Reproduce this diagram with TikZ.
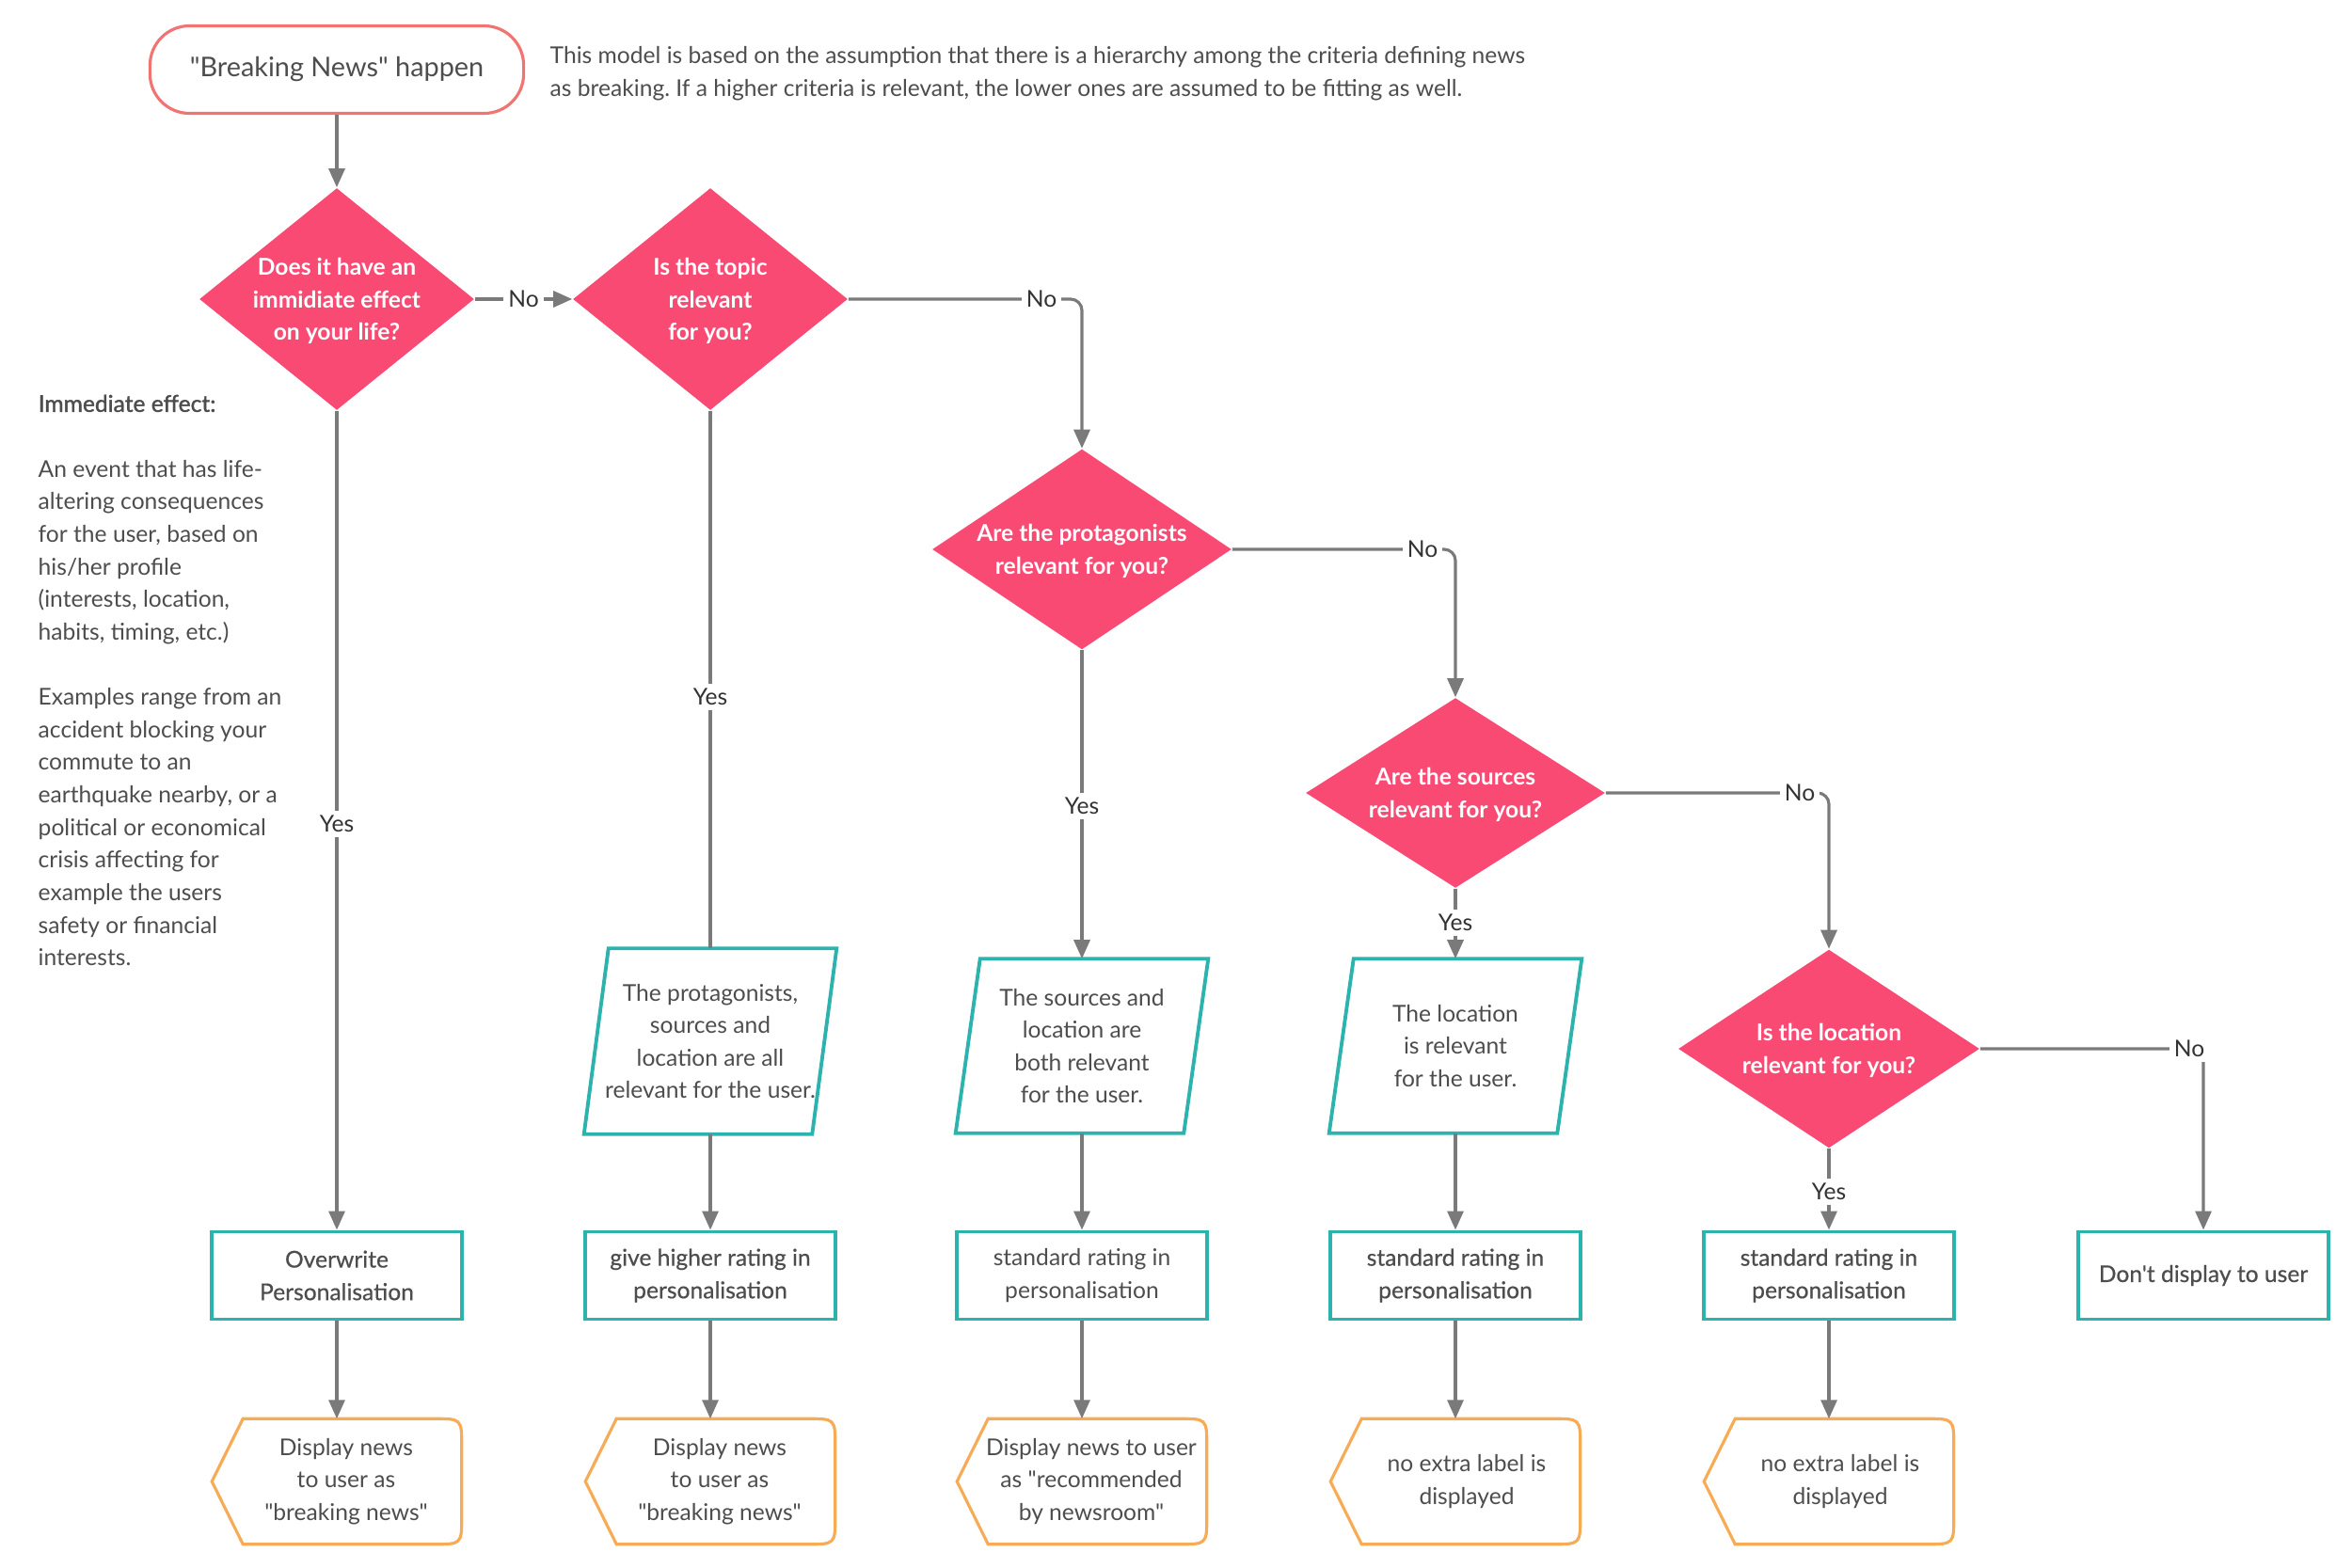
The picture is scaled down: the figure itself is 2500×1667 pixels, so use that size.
\documentclass[tikz,border=0pt]{standalone}
\usepackage{fontspec}
\newfontfamily\lato{Lato}
\newfontfamily\latomed{Lato}[FakeBold=0.5]
\newfontfamily\latosemi{Lato}[FakeBold=1.4]
\usetikzlibrary{arrows.meta,shapes.geometric}
\definecolor{pinkd}{HTML}{F84A73}
\definecolor{tealc}{HTML}{2CB3AE}
\definecolor{orangec}{HTML}{F7AB55}
\definecolor{salmon}{HTML}{F07472}
\definecolor{linec}{HTML}{7A7A7A}
\definecolor{txt}{HTML}{4D4D4D}
\definecolor{lblc}{HTML}{333333}
\newcommand\bodyfont{\lato\frenchspacing\fontsize{7.0}{9.85}\selectfont}
\newcommand\medfont{\latomed\frenchspacing\fontsize{7.0}{9.85}\selectfont}
\newcommand\bigfont{\lato\fontsize{8.2}{10}\selectfont}
\begin{document}
\begin{tikzpicture}[x=0.01cm,y=-0.01cm,
  startbox/.style={draw=salmon, line width=0.9pt, rounded corners=0.42cm, minimum width=3.97cm, minimum height=0.93cm, font=\bigfont, text=txt, inner sep=0pt},
  dia/.style={diamond, fill=pinkd, draw=none, inner sep=0pt},
  diatext/.style={font=\bodyfont\bfseries, text=white, align=center, inner sep=0pt},
  proc/.style={draw=tealc, line width=1.1pt, minimum width=2.66cm, minimum height=0.93cm, align=center, font=\medfont, text=txt, inner sep=0pt},
  para/.style={minimum width=2.67cm, minimum height=1.96cm, align=center, font=\bodyfont, text=txt, inner sep=0pt},
  paraline/.style={draw=tealc, line width=1.1pt, line join=miter},
  disp/.style={minimum width=2.64cm, minimum height=1.32cm, inner sep=0pt},
  displine/.style={draw=orangec, line width=0.9pt},
  disptext/.style={align=center, font=\bodyfont, text=txt, inner sep=0pt},
  lbl/.style={fill=white, inner sep=1.5pt, font=\bodyfont, text=lblc},
  arr/.style={draw=linec, line width=0.9pt, -{Triangle[length=0.2cm,width=0.17cm]}},
  plainline/.style={draw=linec, line width=0.9pt},
  note/.style={font=\bodyfont, text=txt, align=left, inner sep=0pt, anchor=north west}
]
\useasboundingbox (0,0) rectangle (2500,1667);

% start
\node[startbox] (start) at (358,74) {"Breaking News" happen};
\node[note] (topnote) at (584,49) {This model is based on the assumption that there is a hierarchy among the criteria defining news\\as breaking. If a higher criteria is relevant, the lower ones are assumed to be fitting as well.};

% left note
\node[note] (leftnote) at (40,419) {{\latosemi Immediate effect:}\\[9.85pt]An event that has life-\\altering consequences\\for the user, based on\\his/her profile\\(interests, location,\\habits, timing, etc.)\\[9.85pt]Examples range from an\\accident blocking your\\commute to an\\earthquake nearby, or a\\political or economical\\crisis affecting for\\example the users\\safety or financial\\interests.};

% diamonds
\node[dia, minimum width=2.92cm, minimum height=2.36cm] (d1) at (358,318) {};
\node[diatext] (d1t) at ([yshift=-0.02cm]d1.center) {Does it have an\\immidiate effect\\on your life?};
\node[dia, minimum width=2.92cm, minimum height=2.36cm] (d2) at (755,318) {};
\node[diatext] (d2t) at ([yshift=-0.02cm]d2.center) {Is the topic\\relevant\\for you?};
\node[dia, minimum width=3.18cm, minimum height=2.13cm] (d3) at (1150,584) {};
\node[diatext] (d3t) at ([yshift=-0.02cm]d3.center) {Are the protagonists\\relevant for you?};
\node[dia, minimum width=3.18cm, minimum height=2.02cm] (d4) at (1547,843) {};
\node[diatext] (d4t) at ([yshift=-0.02cm]d4.center) {Are the sources\\relevant for you?};
\node[dia, minimum width=3.2cm, minimum height=2.11cm] (d5) at (1944,1115) {};
\node[diatext] (d5t) at ([yshift=-0.02cm]d5.center) {Is the location\\relevant for you?};

% parallelograms
\node[para] (p1) at (755,1107) {The protagonists,\\sources and\\location are all\\relevant for the user.};
\draw[paraline] ([xshift=0.26cm]p1.north west) -- (p1.north east) -- ([xshift=-0.26cm]p1.south east) -- (p1.south west) -- cycle;
\node[para, minimum height=1.84cm] (p2) at (1150,1112) {The sources and\\location are\\both relevant\\for the user.};
\draw[paraline] ([xshift=0.26cm]p2.north west) -- (p2.north east) -- ([xshift=-0.26cm]p2.south east) -- (p2.south west) -- cycle;
\node[para, minimum height=1.84cm] (p3) at (1547,1112) {The location\\is relevant\\for the user.};
\draw[paraline] ([xshift=0.26cm]p3.north west) -- (p3.north east) -- ([xshift=-0.26cm]p3.south east) -- (p3.south west) -- cycle;

% process boxes
\node[proc] (r1) at (358,1356) {Overwrite\\Personalisation};
\node[proc] (r2) at (755,1356) {give higher rating in\\personalisation};
\node[proc, font=\bodyfont] (r3) at (1150,1356) {standard rating in\\personalisation};
\node[proc] (r4) at (1547,1356) {standard rating in\\personalisation};
\node[proc] (r5) at (1944,1356) {standard rating in\\personalisation};
\node[proc] (r6) at (2342,1356) {Don't display to user};

% display shapes
\foreach \n/\x in {1/358,2/755,3/1150,4/1547,5/1944}{
  \node[disp] (dp\n) at (\x,1575) {};
  \draw[displine] (dp\n.west) -- ([xshift=0.33cm]dp\n.north west) -- ([xshift=-0.3cm]dp\n.north east)
     .. controls (dp\n.north east) .. ([yshift=-0.3cm]dp\n.north east)
     -- ([yshift=0.3cm]dp\n.south east)
     .. controls (dp\n.south east) .. ([xshift=-0.3cm]dp\n.south east)
     -- ([xshift=0.33cm]dp\n.south west) -- cycle;
}
\node[disptext] (dp1t) at ([xshift=0.1cm]dp1.center) {Display news\\to user as\\"breaking news"};
\node[disptext] (dp2t) at ([xshift=0.1cm]dp2.center) {Display news\\to user as\\"breaking news"};
\node[disptext] (dp3t) at ([xshift=0.1cm]dp3.center) {Display news to user\\as "recommended\\by newsroom"};
\node[disptext] (dp4t) at ([xshift=0.12cm]dp4.center) {no extra label is\\displayed};
\node[disptext] (dp5t) at ([xshift=0.12cm]dp5.center) {no extra label is\\displayed};

% connectors
\draw[arr] (start) -- (d1);
\draw[arr] (d1) -- node[lbl] (no1) {No} (d2);
\draw[arr, rounded corners=0.12cm] (d2.east) -| (d3.north);
\draw[arr, rounded corners=0.12cm] (d3.east) -| (d4.north);
\draw[arr, rounded corners=0.12cm] (d4.east) -| (d5.north);
\draw[arr, rounded corners=0.12cm] (d5.east) -| (r6.north);
\node[lbl] (no2) at (1107,318) {No};
\node[lbl] (no3) at (1512,584) {No};
\node[lbl] (no4) at (1913,843) {No};
\node[lbl] (no5) at (2327,1115) {No};

\draw[arr] (d1.south) -- (r1.north);
\draw[plainline] (d2.south) -- (p1.north);
\draw[arr] (d3.south) -- (p2.north);
\draw[arr] (d4.south) -- (p3.north);
\draw[arr] (d5.south) -- (r5.north);
\node[lbl] (y1) at (358,876) {Yes};
\node[lbl] (y2) at (755,741) {Yes};
\node[lbl] (y3) at (1150,857) {Yes};
\node[lbl] (y4) at (1547,981) {Yes};
\node[lbl] (y5) at (1944,1267) {Yes};

\draw[arr] (p1.south) -- (r2.north);
\draw[arr] (p2.south) -- (r3.north);
\draw[arr] (p3.south) -- (r4.north);
\foreach \n in {1,...,5}{ \draw[arr] (r\n.south) -- (dp\n.north); }
\end{tikzpicture}
\end{document}
